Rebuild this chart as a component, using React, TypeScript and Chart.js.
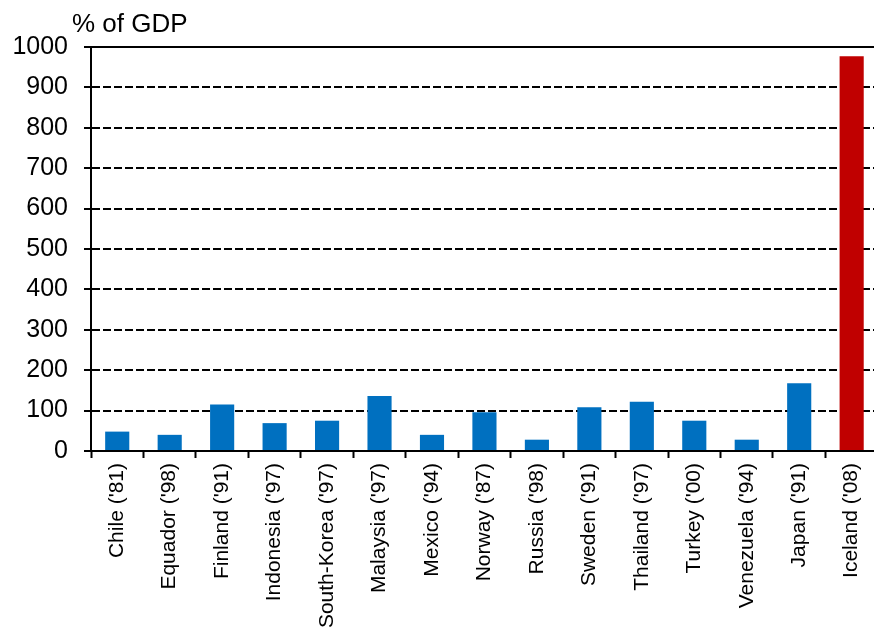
import React, { useEffect, useRef } from "react";
import { Chart, registerables } from "chart.js";

Chart.register(...registerables);

// Banking-sector size at the start of each crisis, % of GDP
const categories = [
  "Chile ('81)",
  "Equador ('98)",
  "Finland ('91)",
  "Indonesia ('97)",
  "South-Korea ('97)",
  "Malaysia ('97)",
  "Mexico ('94)",
  "Norway ('87)",
  "Russia ('98)",
  "Sweden ('91)",
  "Thailand ('97)",
  "Turkey ('00)",
  "Venezuela ('94)",
  "Japan ('91)",
  "Iceland ('08)",
];
const values = [48, 40, 115, 69, 75, 136, 40, 96, 28, 108, 122, 75, 28, 168, 977];
const highlighted = "Iceland ('08)";
const yTitle = "% of GDP";

const BLUE = "#0070C0";
const RED = "#C00000";
const FONT = "'Liberation Sans', Arial, sans-serif";

// Draws the unit caption above the value axis
const unitCaption = {
  id: "unitCaption",
  afterDraw(chart: any) {
    const { ctx, chartArea } = chart;
    ctx.save();
    ctx.fillStyle = "#000";
    ctx.font = `26px ${FONT}`;
    ctx.textAlign = "left";
    ctx.textBaseline = "alphabetic";
    ctx.fillText(yTitle, chartArea.left - 19, chartArea.top - 15);
    ctx.restore();
  },
};

export default function App() {
  const ref = useRef<HTMLCanvasElement>(null);

  useEffect(() => {
    if (!ref.current) return;
    const chart = new Chart(ref.current, {
      type: "bar",
      data: {
        labels: categories,
        datasets: [
          {
            data: values,
            backgroundColor: categories.map((c) => (c === highlighted ? RED : BLUE)),
            borderWidth: 0,
            barPercentage: 0.46,
            categoryPercentage: 1,
          },
        ],
      },
      options: {
        responsive: false,
        animation: false,
        layout: { padding: { top: 47, right: 2, bottom: 0, left: 0 } },
        plugins: {
          legend: { display: false },
          tooltip: { enabled: false },
        },
        scales: {
          x: {
            position: "bottom",
            afterFit(scale: any) {
              scale.height = 177;
            },
            grid: {
              display: true,
              drawOnChartArea: false,
              drawTicks: true,
              tickLength: 7,
              tickWidth: 2,
              tickColor: "#000",
              offset: true,
            },
            border: { display: true, color: "#000", width: 2 },
            ticks: {
              color: "#000",
              font: { family: FONT, size: 21 },
              minRotation: 90,
              maxRotation: 90,
              autoSkip: false,
              padding: 5,
            },
          },
          xTop: {
            type: "category",
            position: "top",
            afterFit(scale: any) {
              scale.height = 0;
            },
            grid: { display: false, drawTicks: false },
            border: { display: true, color: "#000", width: 2 },
            ticks: { display: false },
          },
          y: {
            min: 0,
            max: 1000,
            afterFit(scale: any) {
              scale.width = 91;
            },
            ticks: {
              stepSize: 100,
              color: "#000",
              font: { family: FONT, size: 25 },
              padding: 16,
              callback: (v: any) => String(v),
            },
            grid: {
              color: "#000",
              lineWidth: 2,
              drawTicks: true,
              tickLength: 7,
              tickWidth: 2,
              tickColor: "#000",
            },
            border: { display: true, color: "#000", width: 2, dash: [8, 3] },
          },
        },
      },
      plugins: [unitCaption],
    });
    return () => chart.destroy();
  }, []);

  return (
    <div
      style={{
        position: "fixed",
        left: 0,
        top: 0,
        width: 874,
        height: 628,
        overflow: "hidden",
        background: "#fff",
      }}
    >
      <canvas ref={ref} width={882} height={628} style={{ display: "block" }} />
    </div>
  );
}
